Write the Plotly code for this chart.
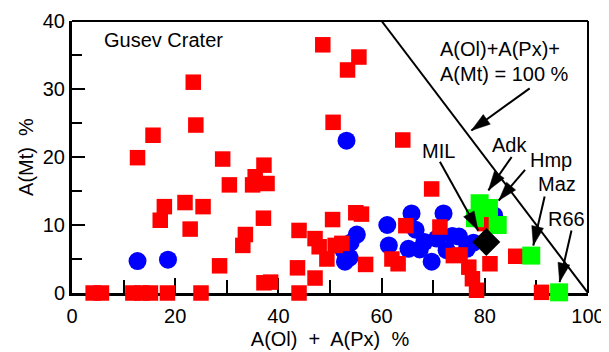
import math
import plotly.graph_objects as go

# ---------------- data ----------------
red_x = [4.1, 5.7, 11.8, 13.5, 15.2, 18.5, 25.0, 44.0,
         12.7, 15.7, 23.5, 24.0, 29.2,
         17.1, 17.9, 21.9, 22.9, 25.4, 28.6,
         30.5, 33.1, 33.6, 35.0, 35.5, 37.2, 37.8, 37.1, 37.2, 38.5,
         43.7, 44.0,
         47.1, 47.9, 49.4, 50.5, 51.0, 52.3, 47.1,
         55.0, 56.1, 56.9,
         62.0, 63.2, 64.7, 71.3, 69.7,
         48.6, 55.6, 53.4, 50.6, 64.1,
         73.9, 75.2, 76.9, 77.6, 78.4, 81.0, 86.0, 91.0, 80.0]
red_y = [0, 0, 0, 0, 0, 0, 0, 0,
         19.9, 23.2, 31.0, 24.7, 19.7,
         10.7, 12.7, 13.3, 9.4, 12.7, 4.0,
         15.9, 7.0, 8.6, 15.9, 17.1, 18.8, 16.1, 11.0, 1.5, 1.6,
         3.7, 9.2,
         8.0, 6.8, 5.0, 10.8, 7.0, 7.3, 2.2,
         11.8, 11.6, 4.2,
         5.0, 4.3, 9.9, 9.7, 15.3,
         36.5, 34.7, 32.8, 25.1, 22.5,
         5.5, 5.6, 3.8, 2.1, 0.4, 4.3, 5.4, 0.1, 10.2]

blue_x = [12.7, 18.6, 53.2,
          52.9, 53.8, 52.6, 54.0, 55.2,
          61.1, 61.4, 65.8, 66.6, 65.2, 67.4, 68.3, 69.7, 70.7, 72.0,
          72.6, 73.7, 75.0, 76.5, 77.8, 81.8]
blue_y = [4.7, 4.9, 22.4,
          4.6, 5.2, 6.3, 7.4, 8.6,
          10.0, 7.0, 11.7, 9.3, 6.5, 6.4, 7.5, 4.6, 8.0, 11.7,
          6.3, 8.4, 8.3, 6.5, 7.4, 11.4]

green_x = [79.0, 80.8, 78.1, 82.5, 89.0, 94.4]
green_y = [13.2, 12.5, 11.0, 10.0, 5.5, 0.1]

mil_x = [80.3]
mil_y = [7.5]

# line A(Ol)+A(Px)+A(Mt) = 100 %
sum_x = [60, 100]
sum_y = [40, 0]

x_ticks = [0, 20, 40, 60, 80, 100]
x_minor = [10, 30, 50, 70, 90]
y_ticks = [0, 10, 20, 30, 40]
y_minor = [5, 15, 25, 35]

# labels: text, label x, label y, arrow tail (x,y), arrow tip (x,y)
arrow_labels = ["MIL", "Adk", "Hmp", "Maz", "R66"]
label_x = [71.1, 84.7, 92.8, 93.9, 95.8]
label_y = [20.9, 21.8, 19.6, 16.0, 10.95]
tail_x = [71.3, 85.2, 87.8, 91.6, 96.8]
tail_y = [19.3, 20.0, 18.1, 14.2, 9.2]
tip_x = [78.7, 80.7, 82.7, 89.4, 94.5]
tip_y = [9.2, 15.1, 13.6, 7.0, 1.6]

eq_lines = ["A(Ol)+A(Px)+", "A(Mt) = 100 %"]
eq_x = 70.9
eq_y = [35.9, 32.25]
eq_tail = (88.7, 30.1)
eq_tip = (77.4, 23.9)

FONT = "Liberation Sans, Arial, Helvetica, sans-serif"

# ---------------- figure ----------------
fig = go.Figure()
fig.add_trace(go.Scatter(x=blue_x, y=blue_y, mode="markers", cliponaxis=False,
                         marker=dict(symbol="circle", size=18, color="#0000FF", line=dict(width=0))))
fig.add_trace(go.Scatter(x=red_x, y=red_y, mode="markers", cliponaxis=False,
                         marker=dict(symbol="square", size=15.5, color="#FF0000", line=dict(width=0))))
fig.add_trace(go.Scatter(x=green_x, y=green_y, mode="markers", cliponaxis=False,
                         marker=dict(symbol="square", size=18, color="#00FF00", line=dict(width=0))))
fig.add_trace(go.Scatter(x=mil_x, y=mil_y, mode="markers", cliponaxis=False,
                         marker=dict(symbol="diamond", size=21.5, color="black", line=dict(width=0))))
fig.add_trace(go.Scatter(x=sum_x, y=sum_y, mode="lines", cliponaxis=False,
                         line=dict(color="black", width=2)))

# the page body adds an 8px offset, so the figure is 8px smaller on each axis
W, H = 601, 344
ML, MR, MT, MB = 64, 21, 13, 59
sx = (W - ML - MR) / 100.0
sy = (H - MT - MB) / 40.0

def add_arrow(tx, ty, hx, hy):
    fig.add_shape(type="line", x0=tx, y0=ty, x1=hx, y1=hy, xref="x", yref="y",
                  line=dict(color="black", width=2))
    dx = (hx - tx) * sx
    dy = (hy - ty) * sy
    n = math.hypot(dx, dy)
    ux, uy = dx / n, dy / n
    L, Wd = 19.0, 6.0
    bx, by = -L * ux, -L * uy
    nx, ny = -uy, ux
    path = "M0,0 L{:.2f},{:.2f} L{:.2f},{:.2f} Z".format(
        bx + Wd * nx, by + Wd * ny, bx - Wd * nx, by - Wd * ny)
    fig.add_shape(type="path", path=path, xref="x", yref="y",
                  xsizemode="pixel", ysizemode="pixel", xanchor=hx, yanchor=hy,
                  fillcolor="black", line=dict(color="black", width=0.5))

for i in range(len(arrow_labels)):
    fig.add_annotation(x=label_x[i], y=label_y[i], text=arrow_labels[i], showarrow=False,
                       xanchor="center", yanchor="middle", font=dict(size=20, family=FONT, color="black"))
    add_arrow(tail_x[i], tail_y[i], tip_x[i], tip_y[i])

for t, yy in zip(eq_lines, eq_y):
    fig.add_annotation(x=eq_x, y=yy, text=t, showarrow=False, xanchor="left", yanchor="middle",
                       font=dict(size=20, family=FONT, color="black"))
add_arrow(eq_tail[0], eq_tail[1], eq_tip[0], eq_tip[1])

fig.add_annotation(x=5.8, y=37.2, text="Gusev Crater", showarrow=False, xanchor="left",
                   yanchor="middle", font=dict(size=20, family=FONT, color="black"))

# top and right frame lines
fig.add_shape(type="line", xref="paper", yref="paper", x0=0, x1=1, y0=1, y1=1,
              line=dict(color="black", width=2))
fig.add_shape(type="line", xref="paper", yref="paper", x0=1, x1=1, y0=0, y1=1,
              line=dict(color="black", width=2))

fig.update_layout(
    width=W, height=H, margin=dict(l=ML, r=MR, t=MT, b=MB, autoexpand=False),
    plot_bgcolor="white", paper_bgcolor="white", showlegend=False,
    font=dict(family=FONT, size=20, color="black"),
)
fig.update_xaxes(range=[0, 100], showgrid=False, zeroline=False, showline=True, automargin=False,
                 linewidth=3, linecolor="black", layer="below traces",
                 ticks="inside", ticklen=15, tickwidth=2, tickcolor="black",
                 tickvals=x_ticks, ticktext=[str(v) for v in x_ticks],
                 tickfont=dict(size=20, family=FONT), ticklabelstandoff=3,
                 minor=dict(tickvals=x_minor, ticks="inside", ticklen=13, tickwidth=2, tickcolor="black"),
                 title=dict(text="A(Ol)\u00a0 +\u00a0 A(Px)\u00a0 %", font=dict(size=20, family=FONT), standoff=6))
fig.update_yaxes(range=[0, 40], showgrid=False, zeroline=False, showline=True, automargin=False,
                 linewidth=3, linecolor="black", layer="below traces",
                 ticks="inside", ticklen=13, tickwidth=2, tickcolor="black",
                 tickvals=y_ticks, ticktext=[str(v) for v in y_ticks],
                 tickfont=dict(size=20, family=FONT),
                 minor=dict(tickvals=y_minor, ticks="inside", ticklen=10, tickwidth=2, tickcolor="black"),
                 title=dict(text="A(Mt)\u00a0 %", font=dict(size=20, family=FONT), standoff=4))

fig.write_html("out.html")
